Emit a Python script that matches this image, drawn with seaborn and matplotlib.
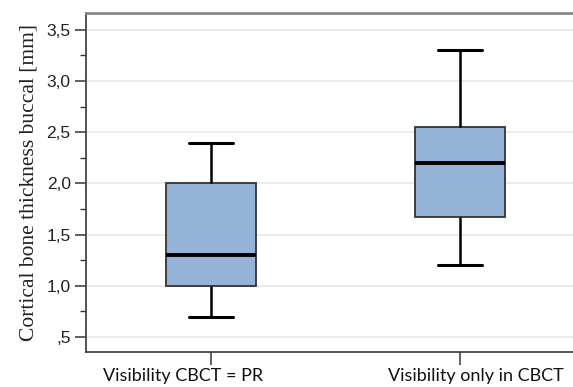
import pandas as pd
import numpy as np
import matplotlib
matplotlib.use("Agg")
import matplotlib.pyplot as plt
import seaborn as sns
from matplotlib.ticker import MultipleLocator, FuncFormatter

# values: whisker low, Q1, median, Q3, whisker high
groups = ["Visibility CBCT = PR", "Visibility only in CBCT"]
same_vis = [0.7, 1.0, 1.3, 2.0, 2.4]
cbct_only = [1.2, 1.67, 2.2, 2.55, 3.3]

df = pd.DataFrame({
    "group": [groups[0]] * len(same_vis) + [groups[1]] * len(cbct_only),
    "thickness": same_vis + cbct_only,
})

sns.set_style("white")
fig = plt.figure(figsize=(5.73, 3.87), dpi=100)
ax = fig.add_axes([86 / 573, 35 / 387, 487 / 573, 339 / 387])

sns.boxplot(data=df, x="group", y="thickness", order=groups, ax=ax,
            color="#95b3d7", saturation=1, width=0.36, linecolor="black",
            linewidth=1.6, whis=1.5,
            boxprops=dict(edgecolor="#333333", linewidth=1.3),
            medianprops=dict(color="black", linewidth=2.8),
            whiskerprops=dict(color="black", linewidth=1.8),
            capprops=dict(color="black", linewidth=2.2))

ax.set_xlim(-0.502, 1.454)
ax.set_ylim(0.354, 3.665)
ax.yaxis.set_major_locator(MultipleLocator(0.5))
ax.yaxis.set_minor_locator(MultipleLocator(0.25))

def comma_fmt(v, pos):
    s = f"{v:.1f}".replace(".", ",")
    if s.startswith("0"):
        s = s[1:]
    return s

ax.yaxis.set_major_formatter(FuncFormatter(comma_fmt))
ax.grid(axis="y", color="#ebebeb", linewidth=1.5)
ax.set_axisbelow(True)

for side in ["left", "bottom", "top"]:
    ax.spines[side].set_visible(True)
    ax.spines[side].set_color("#444444")
    ax.spines[side].set_linewidth(1.3)
ax.spines["right"].set_visible(False)
ax.spines["top"].set_color("#888888")
ax.spines["top"].set_linewidth(2)

ax.tick_params(axis="y", which="major", direction="out", length=8, width=1.1,
               color="#333333", labelsize=12.5, labelcolor="#222222", left=True, pad=3)
ax.tick_params(axis="y", which="minor", direction="out", length=4, width=1,
               color="#333333", left=True)
ax.tick_params(axis="x", direction="out", length=9, width=1.1,
               color="#333333", bottom=True, labelbottom=False)
for lab in ax.get_yticklabels():
    lab.set_family("Liberation Sans")

# category labels sit a bit off their ticks in the original
label_shift = [-19.8, 11.2]
for i, name in enumerate(groups):
    ax.annotate(name, xy=(i, 0), xycoords=ax.get_xaxis_transform(),
                xytext=(label_shift[i], -17.3), textcoords="offset points",
                ha="center", va="center", fontsize=13, family="Lato",
                color="#111111", annotation_clip=False)

ax.set_xlabel("")
ax.set_ylabel("Cortical bone thickness buccal [mm]", family="Liberation Serif",
              fontsize=15.5, color="#222222", labelpad=6)

fig.savefig("out.png", dpi=100)
